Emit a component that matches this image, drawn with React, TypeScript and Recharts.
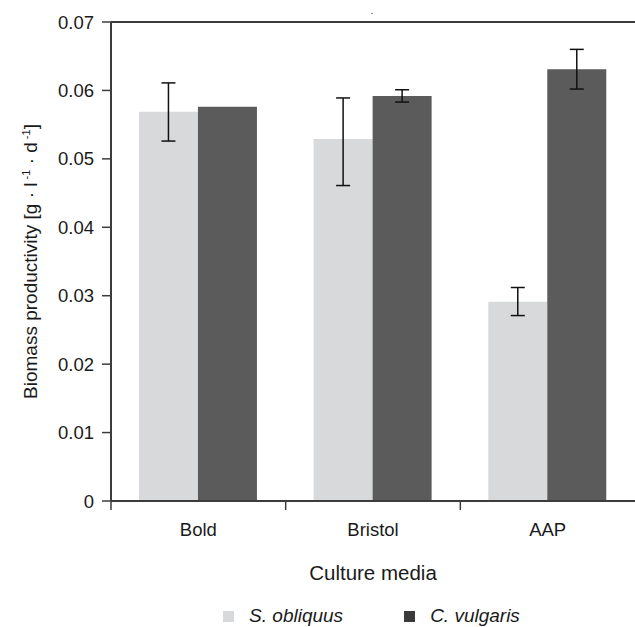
import React from "react";
import {
  BarChart,
  Bar,
  XAxis,
  YAxis,
  ErrorBar,
  ReferenceLine,
  Legend,
} from "recharts";

// values
const media = ["Bold", "Bristol", "AAP"];
const sObliquus = [0.0569, 0.0529, 0.0291];
const sObliquusLow = [0.0526, 0.0461, 0.0271];
const sObliquusHigh = [0.0611, 0.0589, 0.0312];
const cVulgaris = [0.0576, 0.0592, 0.0631];
const cVulgarisLow = [0.0576, 0.0583, 0.0602];
const cVulgarisHigh = [0.0576, 0.0601, 0.066];
const yTicks = [0, 0.01, 0.02, 0.03, 0.04, 0.05, 0.06, 0.07];

// no visible error bar -> leave it out
const err = (v: number, lo: number, hi: number) =>
  lo === v && hi === v ? undefined : [v - lo, hi - v];

const data = media.map((m, i) => ({
  media: m,
  obl: sObliquus[i],
  oblErr: err(sObliquus[i], sObliquusLow[i], sObliquusHigh[i]),
  vul: cVulgaris[i],
  vulErr: err(cVulgaris[i], cVulgarisLow[i], cVulgarisHigh[i]),
}));

const FONT = '"Liberation Sans", Arial, sans-serif';
const AXIS = "#3c3c3c";
const LIGHT = "#d8d9db";
const DARK = "#5b5b5b";

const CategoryTick = (props: any) => {
  const { x, y, payload } = props;
  const half = payload?.offset ?? 0;
  return (
    <g>
      <line x1={x - half} x2={x - half} y1={y} y2={y + 9} stroke={AXIS} strokeWidth={1.5} />
      <text x={x} y={y + 35} textAnchor="middle" fontSize={18.5} fill="#1a1a1a" fontFamily={FONT}>
        {payload.value}
      </text>
    </g>
  );
};

const YTitle = (props: any) => {
  const vb = props.viewBox || { x: 0, y: 22, width: 111, height: 479 };
  const cx = vb.x + 37;
  const cy = vb.y + vb.height / 2;
  return (
    <text
      x={cx}
      y={cy}
      transform={`rotate(-90, ${cx}, ${cy})`}
      textAnchor="middle"
      fontSize={19}
      fill="#1a1a1a"
      fontFamily={FONT}
    >
      Biomass productivity [g · l
      <tspan dy={-7} fontSize={11}> -1</tspan>
      <tspan dy={7}> · d</tspan>
      <tspan dy={-7} fontSize={11}> -1</tspan>
      <tspan dy={7}>]</tspan>
    </text>
  );
};

const XTitle = (props: any) => {
  const vb = props.viewBox || { x: 111, y: 501, width: 524, height: 96 };
  return (
    <text
      x={vb.x + vb.width / 2}
      y={vb.y + 79}
      textAnchor="middle"
      fontSize={20.5}
      fill="#1a1a1a"
      fontFamily={FONT}
    >
      Culture media
    </text>
  );
};

const legendItems = [
  { name: "S. obliquus", color: LIGHT },
  { name: "C. vulgaris", color: "#3a3a3a" },
];

const renderLegend = () => (
  <div
    style={{
      display: "flex",
      justifyContent: "center",
      alignItems: "flex-end",
      height: 30,
      paddingLeft: 108,
      boxSizing: "border-box",
      fontFamily: FONT,
    }}
  >
    {legendItems.map((it, i) => (
      <div key={it.name} style={{ display: "flex", alignItems: "center", marginLeft: i ? 61 : 0 }}>
        <span style={{ width: 11, height: 11, background: it.color, display: "inline-block", marginRight: 15 }} />
        <span style={{ fontSize: 19, fontStyle: "italic", color: "#1a1a1a", lineHeight: "22px" }}>{it.name}</span>
      </div>
    ))}
  </div>
);

export default function App() {
  return (
    <div style={{ position: "absolute", left: 0, top: 0, width: 635, height: 627, background: "#fff", overflow: "hidden" }}>
      <BarChart
        width={635}
        height={627}
        data={data}
        margin={{ top: 22, right: 0, bottom: 0, left: 0 }}
        barCategoryGap="16%"
        barGap={0}
      >
        <text x={372} y={14} fontSize={10} textAnchor="middle" fill="#333" fontFamily={FONT}>
          .
        </text>
        <XAxis
          dataKey="media"
          height={96}
          axisLine={{ stroke: AXIS, strokeWidth: 2 }}
          tickLine={false}
          tickSize={0}
          tickMargin={0}
          tick={<CategoryTick />}
          interval={0}
          label={<XTitle />}
        />
        <YAxis
          width={111}
          domain={[0, 0.07]}
          ticks={yTicks}
          interval={0}
          tickFormatter={(v: number) => (v === 0 ? "0" : v.toFixed(2))}
          axisLine={{ stroke: AXIS, strokeWidth: 2 }}
          tickLine={{ stroke: AXIS, strokeWidth: 1.5 }}
          tickSize={9}
          tickMargin={8}
          tick={{ fontSize: 18.5, fill: "#1a1a1a", fontFamily: FONT }}
          label={<YTitle />}
        />
        <ReferenceLine y={0.07} stroke={AXIS} strokeWidth={2} />
        <Legend verticalAlign="bottom" height={30} content={renderLegend} wrapperStyle={{ bottom: 0 }} />
        <Bar dataKey="obl" name="S. obliquus" fill={LIGHT} isAnimationActive={false}>
          <ErrorBar dataKey="oblErr" width={7} stroke="#111" strokeWidth={1.5} direction="y" />
        </Bar>
        <Bar dataKey="vul" name="C. vulgaris" fill={DARK} isAnimationActive={false}>
          <ErrorBar dataKey="vulErr" width={7} stroke="#111" strokeWidth={1.5} direction="y" />
        </Bar>
      </BarChart>
    </div>
  );
}
